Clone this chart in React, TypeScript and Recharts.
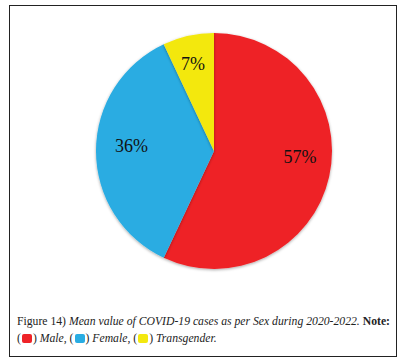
import React from 'react';
import { PieChart, Pie, Cell } from 'recharts';

const categories = ['Male', 'Female', 'Transgender'];
const values = [57, 36, 7];
const colors = ['#EE2328', '#29ACE2', '#F3E80F'];

const data = categories.map((name, i) => ({ name, value: values[i] }));

const RAD = Math.PI / 180;
const labelRadius = [0.73, 0.7, 0.76];
const labelAngleShift = [8.6, -3.5, 1];

const renderLabel = (props: any) => {
  const { cx, cy, midAngle, outerRadius, value, index } = props;
  const r = outerRadius * labelRadius[index];
  const a = midAngle + labelAngleShift[index];
  const x = cx + r * Math.cos(-a * RAD);
  const y = cy + r * Math.sin(-a * RAD);
  return (
    <text x={x} y={y} textAnchor="middle" dominantBaseline="central"
      fontFamily="'Liberation Serif', serif" fontSize={18} fill="#111">
      {`${value}%`}
    </text>
  );
};

const Swatch = ({ color }: { color: string }) => (
  <span style={{ display: 'inline-block', width: 10, height: 9, background: color, borderRadius: 2, verticalAlign: '-1px', margin: '0 1px' }} />
);

export default function App() {
  return (
    <div style={{ position: 'fixed', left: 0, top: 0, width: 405, height: 361, background: '#fff' }}>
      <div style={{ position: 'absolute', left: 9, top: 5, width: 386, height: 350, border: '1px solid #222' }} />
      <div style={{ position: 'absolute', left: 0, top: 0 }}>
        <svg width={0} height={0} style={{ position: 'absolute' }}>
          <defs>
            <filter id="sh" x="-10%" y="-10%" width="120%" height="120%">
              <feDropShadow dx="0" dy="1" stdDeviation="1.5" floodColor="#000" floodOpacity="0.35" />
            </filter>
          </defs>
        </svg>
        <PieChart width={405} height={300} margin={{ top: 0, right: 0, bottom: 0, left: 0 }}>
          <Pie data={data} dataKey="value" nameKey="name" cx={214} cy={151} outerRadius={118}
            startAngle={90} endAngle={-270} stroke="none" label={renderLabel} labelLine={false}
            isAnimationActive={false} style={{ filter: 'url(#sh)' }}>
            {data.map((d, i) => <Cell key={d.name} fill={colors[i]} />)}
          </Pie>
        </PieChart>
      </div>
      <div style={{ position: 'absolute', left: 17, top: 313, width: 380, fontFamily: "'Liberation Serif', serif", fontSize: 11.7, lineHeight: '17px', color: '#222', whiteSpace: 'nowrap' }}>
        <div>Figure 14) <i>Mean value of COVID-19 cases as per Sex during 2020-2022.</i> <b>Note:</b></div>
        <div>(<Swatch color={colors[0]} />) <i>Male</i>, (<Swatch color={colors[1]} />) <i>Female</i>, (<Swatch color={colors[2]} />) <i>Transgender.</i></div>
      </div>
    </div>
  );
}
